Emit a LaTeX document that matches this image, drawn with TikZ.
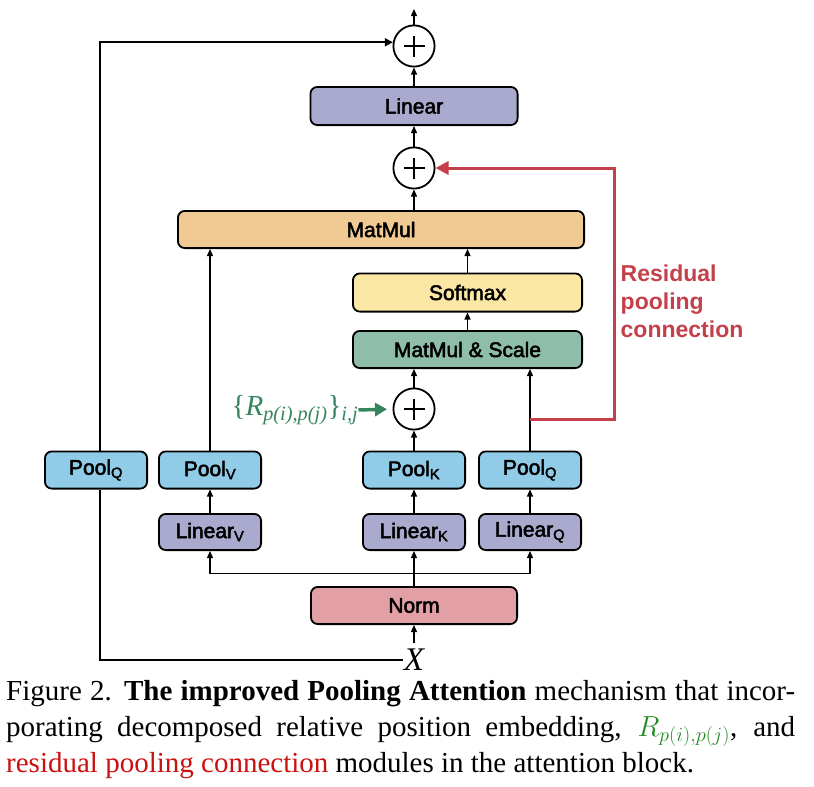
\RequirePackage{fix-cm}
\documentclass[tikz,border=0pt]{standalone}
\usepackage{fontspec}
\setmainfont{Liberation Serif}
\newfontfamily\boxfont{Liberation Sans}[FakeBold=2.4]
\newfontfamily\redfont{Liberation Sans}
\usetikzlibrary{arrows.meta,positioning,calc}
\definecolor{resred}{RGB}{196,64,74}
\definecolor{relgreen}{RGB}{52,132,94}
\definecolor{capred}{RGB}{204,16,16}
\definecolor{capgreen}{RGB}{34,139,34}
\tikzstyle{linbox} = [rectangle, rounded corners=7pt, minimum width=102.2pt, minimum height=36.2pt, inner sep=0pt, text centered, draw=black, fill={rgb, 255:red, 170; green, 170; blue, 206 }, line width=1.8pt, font=\boxfont\fontsize{21}{24}\selectfont]
\tikzstyle{poolbox} = [rectangle, rounded corners=7pt, minimum width=102.2pt, minimum height=37.2pt, inner sep=0pt, text centered, draw=black, fill={rgb, 255:red, 144; green, 203; blue, 232 }, line width=1.8pt, font=\boxfont\fontsize{21}{24}\selectfont]
\tikzstyle{normbox} = [rectangle, rounded corners=7pt, minimum width=206.2pt, minimum height=37.2pt, inner sep=0pt, text centered, draw=black, fill={rgb, 255:red, 226; green, 160; blue, 165 }, line width=1.8pt, font=\boxfont\fontsize{21}{24}\selectfont]
\tikzstyle{mmbox} = [rectangle, rounded corners=7pt, minimum width=406.2pt, minimum height=37.2pt, inner sep=0pt, text centered, draw=black, fill={rgb, 255:red, 241; green, 201; blue, 146 }, line width=1.8pt, font=\boxfont\fontsize{21}{24}\selectfont]
\tikzstyle{softbox} = [rectangle, rounded corners=7pt, minimum width=229.2pt, minimum height=38.2pt, inner sep=0pt, text centered, draw=black, fill={rgb, 255:red, 250; green, 231; blue, 163 }, line width=1.8pt, font=\boxfont\fontsize{21}{24}\selectfont]
\tikzstyle{msbox} = [rectangle, rounded corners=7pt, minimum width=229.2pt, minimum height=37.2pt, inner sep=0pt, text centered, draw=black, fill={rgb, 255:red, 142; green, 190; blue, 170 }, line width=1.8pt, font=\boxfont\fontsize{21}{24}\selectfont]
\tikzstyle{addop} = [circle, draw=black, fill=white, line width=1.8pt, minimum size=41.2pt, inner sep=0pt, path picture={\draw[line width=2.8pt] ([xshift=-10.5pt]path picture bounding box.center) -- ([xshift=10.5pt]path picture bounding box.center) ([yshift=-10.5pt]path picture bounding box.center) -- ([yshift=10.5pt]path picture bounding box.center);}]
\tikzstyle{arrow} = [line width=1.2pt, -{Triangle[length=7pt, width=6pt]}]
\tikzstyle{skipline} = [line width=1.8pt]
\tikzstyle{resline} = [line width=3pt, draw=resred, -{Triangle[length=13pt, width=13pt]}]
\tikzstyle{relarrow} = [line width=3.5pt, draw=relgreen, -{Triangle[length=12pt, width=13pt]}]

\begin{document}
\begin{tikzpicture}[x=1pt, y=-1pt]
		\useasboundingbox (0,0) rectangle (814,787);
		
		\node (norm) [normbox] at (414,605.5) {Norm};
		
		\node (link) [linbox, above = 35pt of norm] {Linear\textsubscript{K}};
		\node (linq) [linbox, right = 12pt of link] {Linear\textsubscript{Q}};
		\node (linv) [linbox, left = 100pt of link] {Linear\textsubscript{V}};
		
		\node (poolk) [poolbox, above = 23.5pt of link] {Pool\textsubscript{K}};
		\node (poolq) [poolbox, right = 12pt of poolk] {Pool\textsubscript{Q}};
		\node (poolv) [poolbox, left = 100pt of poolk] {Pool\textsubscript{V}};
		\node (poolskip) [poolbox, left = 10pt of poolv] {Pool\textsubscript{Q}};
		
		\node (addk) [addop, above = 20pt of poolk] {};
		\node (ms) [msbox, above = 18.5pt of addk, xshift=53.5pt] {MatMul \& Scale};
		\node (soft) [softbox, above = 17.5pt of ms] {Softmax};
		\node (matmul) [mmbox, above = 23.5pt of soft, xshift=-86.5pt] {MatMul};
		
		\node (addres) [addop, above = 20.5pt of matmul, xshift=33pt] {};
		\node (linout) [linbox, minimum width=207.2pt, minimum height=38.2pt, above = 20.5pt of addres] {Linear};
		\node (addout) [addop, above = 18.5pt of linout] {};
		\coordinate [above = 15.5pt of addout] (out);
		
		\node (x) [below = 18pt of norm, inner xsep=1pt, inner ysep=6pt, font=\fontsize{33}{33}\selectfont\itshape] {X};
		
		\node (rel) [left = 34pt of addk, yshift=-1pt, inner sep=0pt, text=relgreen, font=\fontsize{29}{32}\selectfont] {\{\textit{R}\textsubscript{\textit{p(i),p(j)}}\}\textsubscript{\textit{i,j}}};
		
		\node (rescap) [anchor=north west, inner sep=0pt, align=left, text=resred, font=\redfont\bfseries\fontsize{23}{28}\selectfont] at (620.5,265) {Residual\\pooling\\connection};
		
		% input and branches
		\draw [arrow] (x.north) -- (norm.south);
		\draw [arrow] (norm.north) -- (link.south);
		\coordinate (split) at ($(norm.north)!0.36!(link.south)$);
		\draw [arrow] (split) -| (linv.south);
		\draw [arrow] (split) -| (linq.south);
		
		\draw [arrow] (linv.north) -- (poolv.south);
		\draw [arrow] (link.north) -- (poolk.south);
		\draw [arrow] (linq.north) -- (poolq.south);
		
		\draw [arrow] (poolv.north) -- (poolv.north |- matmul.south);
		\draw [arrow] (poolk.north) -- (addk.south);
		\draw [arrow] (addk.north) -- (addk.north |- ms.south);
		\draw [arrow] (poolq.north) -- (poolq.north |- ms.south);
		\draw [arrow] (ms.north) -- (soft.south);
		\draw [arrow] (soft.north) -- (soft.north |- matmul.south);
		
		\draw [arrow] (addres.south |- matmul.north) -- (addres.south);
		\draw [arrow] (addres.north) -- (linout.south);
		\draw [arrow] (linout.north) -- (addout.south);
		\draw [arrow] (addout.north) -- (out);
		
		% skip connection
		\draw [skipline] (x.west) -| ([xshift=4pt]poolskip.south);
		\draw [skipline, -{Triangle[length=8pt, width=8pt]}] ([xshift=4pt]poolskip.north) |- (addout.170);
		
		% residual pooling connection
		\coordinate (resjoin) at ($(poolq.north)!0.38!(poolq.north |- ms.south)$);
		\draw [resline] (resjoin) -- ++(84pt,0) |- (addres.east);
		
		\draw [relarrow, shorten >=5.5pt] (rel.east) -- (addk.west);
		
		\node (caption) [anchor=north west, inner sep=0pt, text width=789pt, align=justify, font=\fontsize{29}{36}\selectfont] at (6,680) {Figure 2. \textbf{The improved Pooling Attention} mechanism that incor-\linebreak porating decomposed relative position embedding, \textcolor{capgreen}{$R_{p(i),p(j)}$}, and\linebreak \textcolor{capred}{residual pooling connection} modules in the attention block.};
		
\end{tikzpicture}
\end{document}
